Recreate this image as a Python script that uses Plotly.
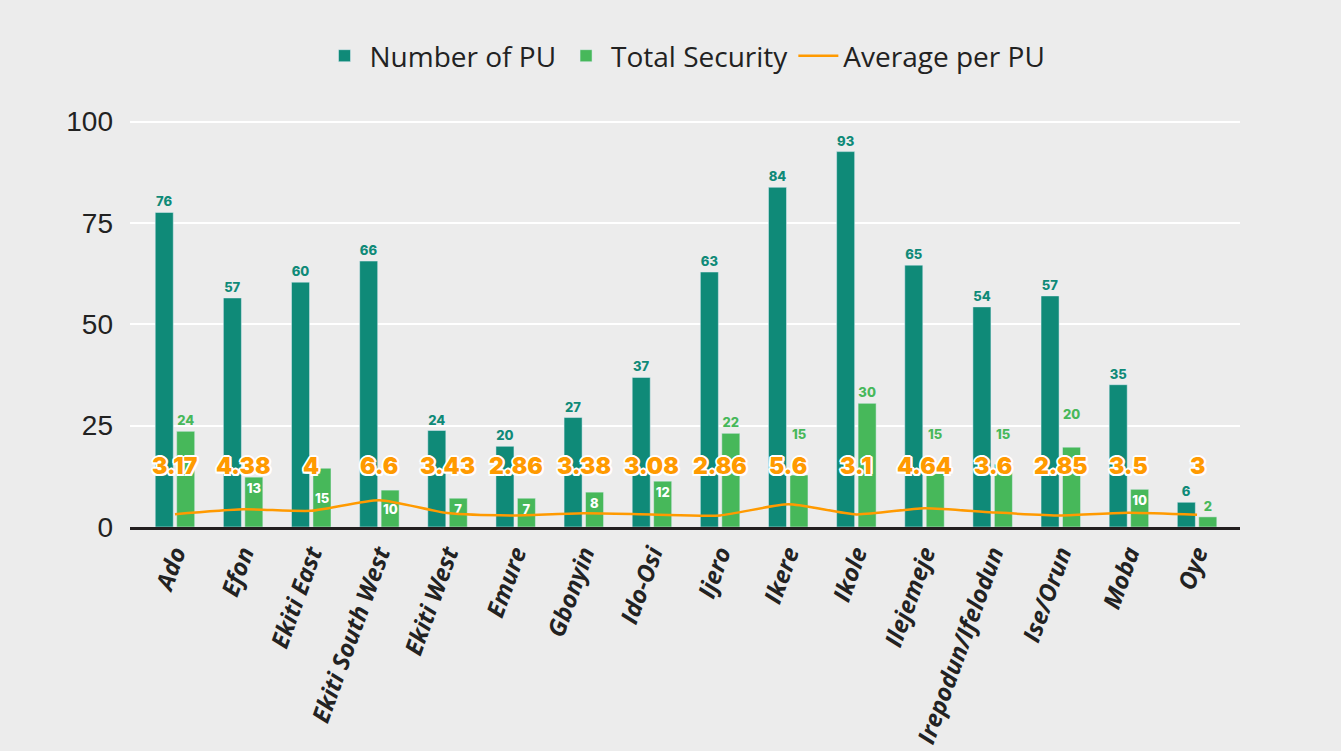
import plotly.graph_objects as go

categories = ["Ado", "Efon", "Ekiti East", "Ekiti South West", "Ekiti West", "Emure",
              "Gbonyin", "Ido-Osi", "Ijero", "Ikere", "Ikole", "Ilejemeje",
              "Irepodun/Ifelodun", "Ise/Orun", "Moba", "Oye"]
# bar heights as drawn
number_of_pu = [77.6, 56.5, 60.4, 65.6, 23.8, 19.9, 27.0, 36.9, 62.9, 83.8, 92.6, 64.6, 54.3, 57.0, 35.1, 6.1]
total_security = [23.6, 12.3, 14.5, 9.1, 7.1, 7.1, 8.6, 11.3, 23.1, 12.8, 30.5, 13.2, 15.5, 19.7, 9.3, 2.5]
# printed labels
pu_labels = ["76", "57", "60", "66", "24", "20", "27", "37", "63", "84", "93", "65", "54", "57", "35", "6"]
sec_labels = ["24", "13", "15", "10", "7", "7", "8", "12", "22", "15", "30", "15", "15", "20", "10", "2"]
sec_label_pos = ["outside", "inside", "middle", "middle", "inside", "inside", "inside", "inside",
                 "outside", "above", "outside", "above", "above", "above", "inside", "outside"]
average_per_pu = [3.17, 4.38, 4.0, 6.6, 3.43, 2.86, 3.38, 3.08, 2.86, 5.6, 3.1, 4.64, 3.6, 2.85, 3.5, 3.0]
avg_labels = ["3.17", "4.38", "4", "6.6", "3.43", "2.86", "3.38", "3.08", "2.86", "5.6", "3.1", "4.64", "3.6", "2.85", "3.5", "3"]

TEAL = "#0f8a78"
GREEN = "#47b85a"
ORANGE = "#ff9a00"
BG = "#ececec"
LABEL_FONT = "Inter, Lato, Roboto, sans-serif"
GREEN_SHIFT = 10.75  # pixel offset of the second bar from the category centre

bar_pos = [p if p in ("inside", "outside") else "none" for p in sec_label_pos]

fig = go.Figure()
fig.add_trace(go.Bar(
    x=categories, y=number_of_pu, name="Number of PU", marker_color=TEAL,
    text=pu_labels, textposition="outside", constraintext="none", cliponaxis=False,
    textfont=dict(family=LABEL_FONT, size=13, color=TEAL, weight=800),
))
fig.add_trace(go.Bar(
    x=categories, y=total_security, name="Total Security", marker_color=GREEN,
    text=sec_labels, textposition=bar_pos, insidetextanchor="end",
    constraintext="none", cliponaxis=False,
    insidetextfont=dict(family=LABEL_FONT, size=13, color="white", weight=800),
    outsidetextfont=dict(family=LABEL_FONT, size=13, color=GREEN, weight=800),
))
fig.add_trace(go.Scatter(
    x=categories, y=average_per_pu, name="Average per PU", mode="lines",
    line=dict(color=ORANGE, width=2.5, shape="spline", smoothing=0.6),
))

for cat, lab, val, pos in zip(categories, sec_labels, total_security, sec_label_pos):
    if pos == "above":
        # green labels lifted above the average labels
        fig.add_annotation(x=cat, y=float(lab), xref="x", yref="y", text=lab, showarrow=False,
                           xshift=GREEN_SHIFT, yshift=22, yanchor="bottom",
                           font=dict(family=LABEL_FONT, size=13, color=GREEN, weight=800))
    elif pos == "middle":
        fig.add_annotation(x=cat, y=val / 2, xref="x", yref="y", text=lab, showarrow=False,
                           xshift=GREEN_SHIFT, yanchor="middle",
                           font=dict(family=LABEL_FONT, size=13, color="white", weight=800))

outline = ("white 2px 0px 0px, white -2px 0px 0px, white 0px 2px 0px, white 0px -2px 0px, "
           "white 1.5px 1.5px 0px, white -1.5px -1.5px 0px, white 1.5px -1.5px 0px, white -1.5px 1.5px 0px")
for cat, lab in zip(categories, avg_labels):
    fig.add_annotation(x=cat, y=15, xref="x", yref="y", text=lab, showarrow=False,
                       font=dict(family=LABEL_FONT, size=23, color=ORANGE, weight=900, shadow=outline))

fig.update_layout(
    width=1341, height=751,
    paper_bgcolor=BG, plot_bgcolor=BG,
    margin=dict(l=130, r=101, t=120, b=224),
    barmode="group", bargap=0.37, bargroupgap=0.16,
    legend=dict(orientation="h", x=0.5, xanchor="center", y=1 - 56 / 751, yanchor="middle",
                yref="container", font=dict(family="Open Sans, sans-serif", size=28, color="#222"),
                itemwidth=40, traceorder="normal", bgcolor="rgba(0,0,0,0)"),
    showlegend=True,
)
fig.update_xaxes(
    type="category", range=[-0.66, 15.63], tickangle=-70, automargin=False,
    tickfont=dict(family="Open Sans, sans-serif", size=24, color="#222", weight="bold", style="italic"),
    showline=True, linecolor="#231f20", linewidth=3, ticks="", showgrid=False,
)
fig.update_yaxes(
    range=[0, 100.4], tickvals=[0, 25, 50, 75, 100], showgrid=True, gridcolor="white", gridwidth=1.5,
    tickfont=dict(family="Liberation Sans, Arial, sans-serif", size=28, color="#222"),
    zeroline=False, ticks="", showline=False, ticklabelstandoff=16, automargin=False,
)

fig.write_html("out.html")
